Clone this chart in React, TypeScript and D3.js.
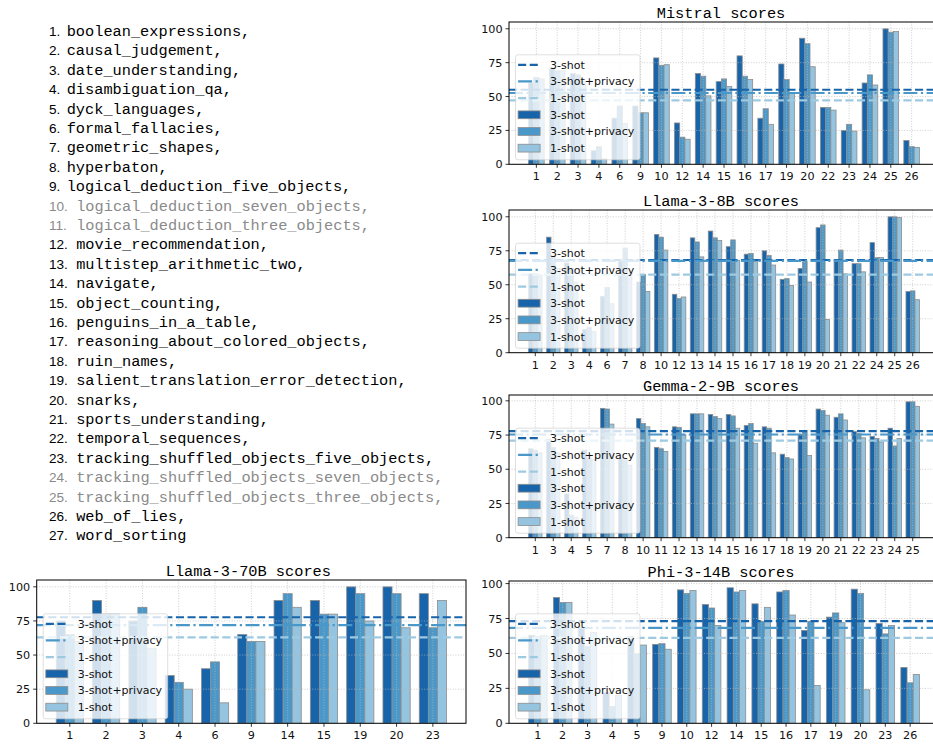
import React from 'react';
import * as d3 from 'd3';

// ---------- data ----------
const taskNames = [
  'boolean_expressions', 'causal_judgement', 'date_understanding', 'disambiguation_qa',
  'dyck_languages', 'formal_fallacies', 'geometric_shapes', 'hyperbaton',
  'logical_deduction_five_objects', 'logical_deduction_seven_objects',
  'logical_deduction_three_objects', 'movie_recommendation', 'multistep_arithmetic_two',
  'navigate', 'object_counting', 'penguins_in_a_table', 'reasoning_about_colored_objects',
  'ruin_names', 'salient_translation_error_detection', 'snarks', 'sports_understanding',
  'temporal_sequences', 'tracking_shuffled_objects_five_objects',
  'tracking_shuffled_objects_seven_objects', 'tracking_shuffled_objects_three_objects',
  'web_of_lies', 'word_sorting',
];
const grayedTasks = [10, 11, 24, 25];

const seriesNames = ['3-shot', '3-shot+privacy', '1-shot'];

const mistralTasks = [1, 2, 3, 4, 6, 9, 10, 12, 14, 15, 16, 17, 19, 20, 22, 23, 24, 25, 26];
const mistral3Shot = [60, 71, 67, 10, 34, 43, 78.5, 30.5, 67, 61, 80, 34, 74, 93, 42, 25, 60, 100, 17.5];
const mistralPrivacy = [64, 69, 66, 13, 43, 38, 73, 20, 65, 63, 65, 41, 62.5, 89, 42, 29.5, 66, 97.5, 13];
const mistral1Shot = [63, 69, 61, 4, 30, 38, 73.5, 18.5, 50.5, 57.5, 62.5, 29.5, 52.5, 72, 40, 24.5, 58.5, 98, 12.5];
const mistralMeans = [55.0, 52.6, 47.1];

const llama8Tasks = [1, 2, 3, 4, 6, 7, 8, 10, 12, 13, 14, 15, 16, 17, 18, 19, 20, 21, 22, 24, 25, 26];
const llama83Shot = [58, 85, 66, 17, 41.5, 68, 52, 87, 43, 84.5, 89.5, 78, 72.5, 75, 54, 62, 92, 68, 65.5, 81, 100, 45];
const llama8Privacy = [58, 70, 62, 18.5, 48, 77, 57.5, 85, 40, 81.5, 84.5, 83, 73, 71.5, 54.5, 67, 94, 75.5, 65.5, 70, 100, 45.5];
const llama81Shot = [57, 62, 52, 15.5, 36, 58, 45, 75.5, 41, 70.5, 82.5, 68, 67, 64.5, 49.5, 52, 24.5, 58, 59.5, 70, 99.5, 39];
const llama8Means = [68.2, 67.5, 57.4];

const gemmaTasks = [1, 3, 4, 5, 7, 8, 10, 11, 12, 13, 14, 15, 16, 17, 18, 19, 20, 21, 22, 23, 24, 25];
const gemma3Shot = [65, 72, 32, 64, 94.5, 58, 87, 66, 81, 90.5, 90, 90, 82, 81, 61, 75.5, 94, 88, 77.5, 74, 80, 99.3];
const gemmaPrivacy = [64, 66, 16.5, 58, 94, 57, 83.5, 65, 80.5, 90.5, 88.5, 89, 83.5, 80, 58.5, 78.3, 93, 90.5, 76, 72.5, 67, 99.3];
const gemma1Shot = [62, 62, 15, 57, 83, 53, 81, 63, 75, 90.5, 87, 80, 69, 62, 57.5, 60, 89.5, 86, 73, 70, 72.5, 96];
const gemmaMeans = [77.8, 75.4, 71.0];

const llama70Tasks = [1, 2, 3, 4, 6, 9, 14, 15, 19, 20, 23];
const llama703Shot = [75, 90, 75, 35, 40, 65, 90, 90, 100, 100, 95];
const llama70Privacy = [65, 80, 85, 30, 45, 60, 95, 80, 95, 95, 70];
const llama701Shot = [60, 80, 55, 25, 15, 60, 85, 80, 75, 70, 90];
const llama70Means = [77.7, 72.0, 63.0];

const phiTasks = [1, 2, 3, 4, 5, 9, 10, 12, 14, 15, 16, 17, 19, 20, 23, 26];
const phi3Shot = [63, 90, 68, 22, 62, 56.5, 95.5, 85, 97, 85.5, 94, 66.5, 76, 96, 71.5, 40];
const phiPrivacy = [62, 86.5, 55, 12, 50, 57, 93, 82.5, 94, 73, 95, 73, 79, 93, 64, 29];
const phi1Shot = [63, 86.5, 65, 20, 56, 53, 95, 70, 95, 83, 77.5, 27, 72, 24, 70, 35];
const phiMeans = [73.1, 68.3, 61.2];

const yTicks = [0, 25, 50, 75, 100];

// ---------- style ----------
const barColors = ['#1764ab', '#4a98c9', '#94c4df'];
const lineColors = ['#1764ab', '#4a98c9', '#9ecae1'];
const lineDashes = ['8.1,3.5', '14,3.5,2.2,3.5', '8.1,3.5'];
const MONO = '"Liberation Mono", "DejaVu Sans Mono", monospace';
const SANS = '"DejaVu Sans", sans-serif';

type ChartProps = {
  id: string;
  title: string;
  tasks: number[];
  series: number[][];
  means: number[];
  left: number;
  right: number;
  top: number;
  bottom: number;
};

function BarChart({ id, title, tasks, series, means, left, right, top, bottom }: ChartProps) {
  const n = tasks.length;
  const span = n - 1 + 0.75;
  const m = 0.05 * span;
  const x = d3.scaleLinear().domain([-0.375 - m, n - 1 + 0.375 + m]).range([left, right]);
  const yMax = (d3.max(series.flat()) as number) * 1.05;
  const y = d3.scaleLinear().domain([0, yMax]).range([bottom, top]);
  const bw = x(0.25) - x(0);
  const ticks = yTicks.filter((t) => t <= yMax);

  const lx = left + 6.5;
  const lh = 105;
  const ly = bottom - 4.5 - lh;
  const lw = 124.5;

  return (
    <g>
      <defs>
        <clipPath id={`clip-${id}`}>
          <rect x={left} y={top} width={right - left} height={bottom - top} />
        </clipPath>
      </defs>
      <text x={(left + right) / 2 - 3} y={top - 4.5} textAnchor="middle" fontFamily={MONO} fontSize={15.3} fill="#000">
        {title}
      </text>
      <g clipPath={`url(#clip-${id})`}>
        {series.map((vals, k) =>
          vals.map((v, i) => (
            <rect
              key={`b${k}-${i}`}
              x={x(i + (k - 1) * 0.25 - 0.125)}
              y={y(v)}
              width={bw}
              height={y(0) - y(v)}
              fill={barColors[k]}
              stroke="#8c8c8c"
              strokeWidth={0.8}
            />
          ))
        )}
        {tasks.map((t, i) => (
          <line key={`gx${i}`} x1={x(i)} x2={x(i)} y1={top} y2={bottom} stroke="#b8b8b8" strokeWidth={0.7} strokeDasharray="1,1.6" />
        ))}
        {ticks.map((t) => (
          <line key={`gy${t}`} x1={left} x2={right} y1={y(t)} y2={y(t)} stroke="#b8b8b8" strokeWidth={0.7} strokeDasharray="1,1.6" />
        ))}
        {means.map((v, k) => (
          <line key={`m${k}`} x1={left} x2={right} y1={y(v)} y2={y(v)} stroke={lineColors[k]} strokeWidth={2.2} strokeDasharray={lineDashes[k]} />
        ))}
      </g>
      <rect x={left} y={top} width={right - left} height={bottom - top} fill="none" stroke="#000" strokeWidth={1} />
      {ticks.map((t) => (
        <g key={`ty${t}`}>
          <line x1={left - 3.5} x2={left} y1={y(t)} y2={y(t)} stroke="#000" strokeWidth={0.8} />
          <text x={left - 6.5} y={y(t)} dy="0.36em" textAnchor="end" fontFamily={SANS} fontSize={11.2} fill="#111">
            {t}
          </text>
        </g>
      ))}
      {tasks.map((t, i) => (
        <g key={`tx${i}`}>
          <line x1={x(i)} x2={x(i)} y1={bottom} y2={bottom + 3.5} stroke="#000" strokeWidth={0.8} />
          <text x={x(i)} y={bottom + 16} textAnchor="middle" fontFamily={SANS} fontSize={11.2} fill="#111">
            {t}
          </text>
        </g>
      ))}
      <g>
        <rect x={lx} y={ly} width={lw} height={lh} rx={2.5} fill="#fff" fillOpacity={0.8} stroke="#cccccc" strokeOpacity={0.8} strokeWidth={0.8} />
        {seriesNames.map((s, k) => {
          const cy = ly + 10 + 16.67 * k;
          return (
            <g key={`ll${k}`}>
              <line x1={lx + 2.6} x2={lx + 24.6} y1={cy} y2={cy} stroke={lineColors[k]} strokeWidth={2.2} strokeDasharray={lineDashes[k]} />
              <text x={lx + 34.5} y={cy} dy="0.36em" fontFamily={SANS} fontSize={11} fill="#111">{s}</text>
            </g>
          );
        })}
        {seriesNames.map((s, k) => {
          const cy = ly + 10 + 16.67 * (k + 3);
          return (
            <g key={`lp${k}`}>
              <rect x={lx + 2.6} y={cy - 3.9} width={22} height={7.8} fill={barColors[k]} stroke="#8c8c8c" strokeWidth={0.8} />
              <text x={lx + 34.5} y={cy} dy="0.36em" fontFamily={SANS} fontSize={11} fill="#111">{s}</text>
            </g>
          );
        })}
      </g>
    </g>
  );
}

function TaskList() {
  return (
    <g>
      {taskNames.map((name, i) => {
        const num = i + 1;
        const yb = 36 + 19.4 * i;
        const fill = grayedTasks.includes(num) ? '#8a8a8a' : '#000';
        const tx = num < 10 ? 66.7 : 76.2;
        return (
          <g key={name}>
            <text x={49} y={yb} fontFamily='"Liberation Sans", Arial, sans-serif' fontSize={13.6} fill={fill}>
              {`${num}.`}
            </text>
            <text x={tx} y={yb} fontFamily={MONO} fontSize={15.3} fill={fill}>
              {name + (i < taskNames.length - 1 ? ',' : '')}
            </text>
          </g>
        );
      })}
    </g>
  );
}

export default function App() {
  return (
    <div style={{ position: 'absolute', left: 0, top: 0, width: 933, height: 744, background: '#fff' }}>
      <svg width={933} height={744} viewBox="0 0 933 744" style={{ display: 'block' }}>
        <rect width={933} height={744} fill="#fff" />
        <TaskList />
        <BarChart id="mistral" title="Mistral scores" tasks={mistralTasks}
          series={[mistral3Shot, mistralPrivacy, mistral1Shot]} means={mistralMeans}
          left={509} right={939} top={22} bottom={164.3} />
        <BarChart id="llama8" title="Llama-3-8B scores" tasks={llama8Tasks}
          series={[llama83Shot, llama8Privacy, llama81Shot]} means={llama8Means}
          left={509} right={939} top={210} bottom={352.7} />
        <BarChart id="gemma" title="Gemma-2-9B scores" tasks={gemmaTasks}
          series={[gemma3Shot, gemmaPrivacy, gemma1Shot]} means={gemmaMeans}
          left={509} right={939} top={395} bottom={537.7} />
        <BarChart id="llama70" title="Llama-3-70B scores" tasks={llama70Tasks}
          series={[llama703Shot, llama70Privacy, llama701Shot]} means={llama70Means}
          left={36.7} right={466} top={580} bottom={723.3} />
        <BarChart id="phi" title="Phi-3-14B scores" tasks={phiTasks}
          series={[phi3Shot, phiPrivacy, phi1Shot]} means={phiMeans}
          left={509} right={939} top={581} bottom={723.3} />
      </svg>
    </div>
  );
}
